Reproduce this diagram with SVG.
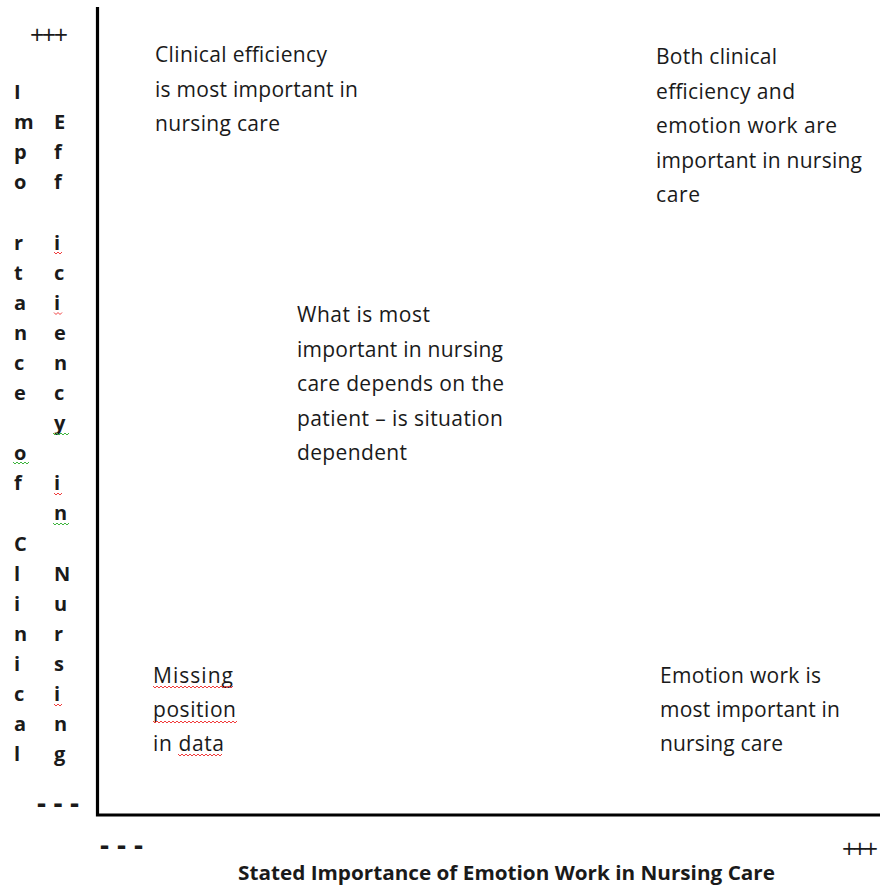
<svg xmlns="http://www.w3.org/2000/svg" width="880" height="887" viewBox="0 0 880 887">
<style>
.t{font-family:"Open Sans","Liberation Sans",sans-serif;font-size:21px;fill:#1a1a1a}
.b{font-family:"Open Sans","Liberation Sans",sans-serif;font-size:20px;font-weight:bold;fill:#1a1a1a}
.p{font-family:"Open Sans","Liberation Sans",sans-serif;font-size:25px;fill:#1a1a1a}
.d{font-family:"Open Sans","Liberation Sans",sans-serif;font-size:28px;font-weight:bold;fill:#1a1a1a}
.ax{stroke:#000;stroke-width:3.2;fill:none}
.sr{stroke:#f03c3c;stroke-width:1;fill:none}
.sg{stroke:#3cb43c;stroke-width:1;fill:none}
</style>
<rect width="880" height="887" fill="#fff"/>
<g id="axes">
<path class="ax" d="M97.5 7 V815 H880"/>
</g>
<g id="y-markers">
<text class="p" x="30" y="43.5" textLength="38" lengthAdjust="spacing">+++</text>
<text class="d" x="37" y="813" textLength="42" lengthAdjust="spacing">- - -</text>
</g>
<g id="x-markers">
<text class="d" x="100" y="855" textLength="43" lengthAdjust="spacing">- - -</text>
<text class="p" x="842" y="857.5" textLength="36" lengthAdjust="spacing">+++</text>
</g>
<g id="y-label">
<text class="b" x="14"><tspan x="14" y="99">I</tspan><tspan x="14" y="129.1">m</tspan><tspan x="14" y="159.2">p</tspan><tspan x="14" y="189.3">o</tspan><tspan x="14" y="249.5">r</tspan><tspan x="14" y="279.6">t</tspan><tspan x="14" y="309.7">a</tspan><tspan x="14" y="339.8">n</tspan><tspan x="14" y="369.9">c</tspan><tspan x="14" y="400">e</tspan><tspan x="14" y="460.2">o</tspan><tspan x="14" y="490.3">f</tspan><tspan x="14" y="550.5">C</tspan><tspan x="14" y="580.6">l</tspan><tspan x="14" y="610.7">i</tspan><tspan x="14" y="640.8">n</tspan><tspan x="14" y="670.9">i</tspan><tspan x="14" y="701">c</tspan><tspan x="14" y="731.1">a</tspan><tspan x="14" y="761.2">l</tspan></text>
<text class="b" x="54"><tspan x="54" y="129.1">E</tspan><tspan x="54" y="159.2">f</tspan><tspan x="54" y="189.3">f</tspan><tspan x="54" y="249.5">i</tspan><tspan x="54" y="279.6">c</tspan><tspan x="54" y="309.7">i</tspan><tspan x="54" y="339.8">e</tspan><tspan x="54" y="369.9">n</tspan><tspan x="54" y="400">c</tspan><tspan x="54" y="430.1">y</tspan><tspan x="54" y="490.3">i</tspan><tspan x="54" y="520.4">n</tspan><tspan x="54" y="580.6">N</tspan><tspan x="54" y="610.7">u</tspan><tspan x="54" y="640.8">r</tspan><tspan x="54" y="670.9">s</tspan><tspan x="54" y="701">i</tspan><tspan x="54" y="731.1">n</tspan><tspan x="54" y="761.2">g</tspan></text>
<path class="sr" d="M54 252 l2 2 2 -2 2 2 2 -2 M54 312.5 l2 2 2 -2 2 2 2 -2 M54 493 l2 2 2 -2 2 2 2 -2 M54 704 l2 2 2 -2 2 2 2 -2"/>
<path class="sg" d="M53 433 l2 2 2 -2 2 2 2 -2 2 2 2 -2 2 2 2 -2 M13 462 l2 2 2 -2 2 2 2 -2 2 2 2 -2 2 2 2 -2 M53 523 l2 2 2 -2 2 2 2 -2 2 2 2 -2 2 2 2 -2"/>
</g>
<g id="x-label">
<text class="b" x="238" y="880" textLength="537" lengthAdjust="spacingAndGlyphs">Stated Importance of Emotion Work in Nursing Care</text>
</g>
<g id="clinical">
<text class="t" x="155" y="62" textLength="172" lengthAdjust="spacing">Clinical efficiency</text>
<text class="t" x="155" y="96.5" textLength="203" lengthAdjust="spacing">is most important in</text>
<text class="t" x="155" y="131" textLength="125" lengthAdjust="spacing">nursing care</text>
</g>
<g id="both">
<text class="t" x="656" y="64" textLength="121" lengthAdjust="spacing">Both clinical</text>
<text class="t" x="656" y="98.5" textLength="139" lengthAdjust="spacing">efficiency and</text>
<text class="t" x="656" y="133" textLength="181" lengthAdjust="spacing">emotion work are</text>
<text class="t" x="656" y="167.5" textLength="206" lengthAdjust="spacing">important in nursing</text>
<text class="t" x="656" y="202" textLength="44" lengthAdjust="spacing">care</text>
</g>
<g id="situation">
<text class="t" x="297" y="322" textLength="133" lengthAdjust="spacing">What is most</text>
<text class="t" x="297" y="356.5" textLength="206" lengthAdjust="spacing">important in nursing</text>
<text class="t" x="297" y="391" textLength="207" lengthAdjust="spacing">care depends on the</text>
<text class="t" x="297" y="425.5" textLength="206" lengthAdjust="spacing">patient – is situation</text>
<text class="t" x="297" y="460" textLength="110" lengthAdjust="spacing">dependent</text>
</g>
<g id="missing">
<text class="t" x="153" y="683" textLength="80" lengthAdjust="spacing">Missing</text>
<text class="t" x="153" y="717" textLength="83" lengthAdjust="spacing">position</text>
<text class="t" x="153" y="751" textLength="71" lengthAdjust="spacing">in data</text>
<path class="sr" d="M153 686 l2 2 2 -2 2 2 2 -2 2 2 2 -2 2 2 2 -2 2 2 2 -2 2 2 2 -2 2 2 2 -2 2 2 2 -2 2 2 2 -2 2 2 2 -2 2 2 2 -2 2 2 2 -2 2 2 2 -2 2 2 2 -2 2 2 2 -2 2 2 2 -2 2 2 2 -2 2 2 2 -2 2 2 2 -2 2 2 2 -2 M153 721 l2 2 2 -2 2 2 2 -2 2 2 2 -2 2 2 2 -2 2 2 2 -2 2 2 2 -2 2 2 2 -2 2 2 2 -2 2 2 2 -2 2 2 2 -2 2 2 2 -2 2 2 2 -2 2 2 2 -2 2 2 2 -2 2 2 2 -2 2 2 2 -2 2 2 2 -2 2 2 2 -2 2 2 2 -2 2 2 2 -2 2 2 2 -2 M178 754 l2 2 2 -2 2 2 2 -2 2 2 2 -2 2 2 2 -2 2 2 2 -2 2 2 2 -2 2 2 2 -2 2 2 2 -2 2 2 2 -2 2 2 2 -2 2 2 2 -2"/>
</g>
<g id="emotion">
<text class="t" x="660" y="683" textLength="161" lengthAdjust="spacing">Emotion work is</text>
<text class="t" x="660" y="717" textLength="180" lengthAdjust="spacing">most important in</text>
<text class="t" x="660" y="751" textLength="123" lengthAdjust="spacing">nursing care</text>
</g>
</svg>
